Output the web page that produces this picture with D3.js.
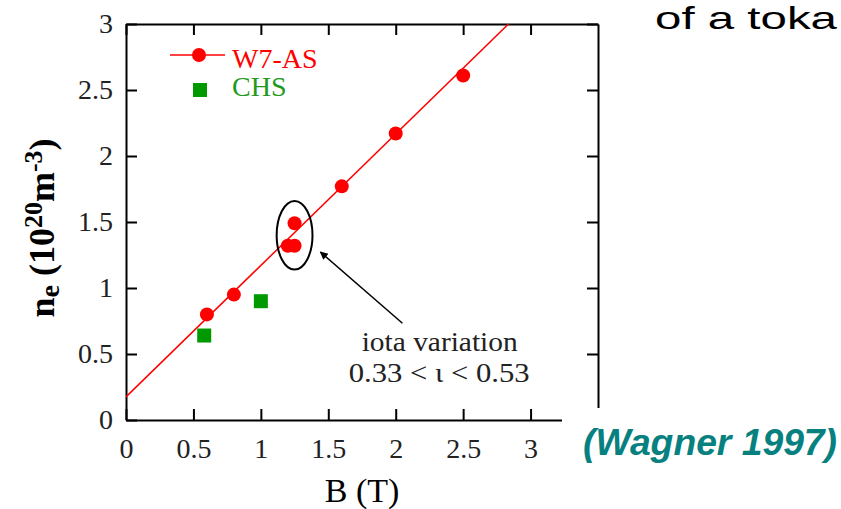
<!DOCTYPE html>
<html>
<head>
<meta charset="utf-8">
<script src="https://cdn.jsdelivr.net/npm/d3@7"></script>
<style>
  html, body { margin: 0; padding: 0; background: #fff; }
  svg { display: block; }
</style>
</head>
<body>
<svg id="chart" width="841" height="509"></svg>
<script>
// Density limit data: W7-AS and CHS stellarators
const bW7 = [0.6, 0.8, 1.2, 1.25, 1.25, 1.6, 2.0, 2.5];
const neW7 = [0.8, 0.95, 1.32, 1.32, 1.49, 1.77, 2.17, 2.61];
const bCHS = [0.58, 1.0];
const neCHS = [0.64, 0.9];
// linear fit through the W7-AS points: ne = a + b*B
const fitIntercept = 0.175;
const fitSlope = 0.996;
const xTicks = [0, 0.5, 1, 1.5, 2, 2.5, 3];
const yTicks = [0, 0.5, 1, 1.5, 2, 2.5, 3];

const svg = d3.select("#chart");
const x = d3.scaleLinear().domain([0, 3.5]).range([126, 598]);
const y = d3.scaleLinear().domain([0, 3]).range([420, 24]);

const serif = "'Liberation Serif', 'DejaVu Serif', serif";
const sans = "'Liberation Sans', Arial, sans-serif";
const red = "#ff0000";
const green = "#009900";

svg.append("defs").append("clipPath").attr("id", "plotClip")
  .append("rect").attr("x", x(0)).attr("y", y(3))
  .attr("width", x(3.5) - x(0)).attr("height", y(0) - y(3));

// axes: ticks point inward on all four sides
const fmt = d => d3.format("")(d);
function styleAxis(g) {
  g.selectAll(".domain").attr("stroke", "#000").attr("stroke-width", 2);
  g.selectAll(".tick line").attr("stroke", "#000").attr("stroke-width", 2);
  g.selectAll(".tick text").attr("font-family", serif).attr("font-size", 28).attr("fill", "#222");
}
svg.append("g").attr("transform", `translate(0,${y(0)})`)
  .call(d3.axisBottom(x).tickValues(xTicks).tickFormat(fmt).tickSizeInner(-11).tickSizeOuter(0).tickPadding(18))
  .call(styleAxis);
svg.append("g").attr("transform", `translate(${x(0)},0)`)
  .call(d3.axisLeft(y).tickValues(yTicks).tickFormat(fmt).tickSizeInner(-11).tickSizeOuter(0).tickPadding(13))
  .call(styleAxis);
svg.append("g").attr("transform", `translate(0,${y(3)})`)
  .call(d3.axisTop(x).tickValues(xTicks).tickFormat("").tickSizeInner(-11).tickSizeOuter(0))
  .call(styleAxis);
svg.append("g").attr("transform", `translate(${x(3.5)},0)`)
  .call(d3.axisRight(y).tickValues(yTicks).tickFormat("").tickSizeInner(-11).tickSizeOuter(0))
  .call(styleAxis);

// fit line
const bEnd = (3 - fitIntercept) / fitSlope;
svg.append("line")
  .attr("clip-path", "url(#plotClip)")
  .attr("x1", x(0)).attr("y1", y(fitIntercept))
  .attr("x2", x(bEnd)).attr("y2", y(fitIntercept + fitSlope * bEnd))
  .attr("stroke", red).attr("stroke-width", 1.5);

// W7-AS points
svg.append("g").selectAll("circle").data(d3.range(bW7.length)).join("circle")
  .attr("cx", i => x(bW7[i])).attr("cy", i => y(neW7[i])).attr("r", 7).attr("fill", red);

// CHS points
svg.append("g").selectAll("rect").data(d3.range(bCHS.length)).join("rect")
  .attr("x", i => x(bCHS[i]) - 7).attr("y", i => y(neCHS[i]) - 7)
  .attr("width", 14).attr("height", 14).attr("fill", green);

// ellipse round the iota scan
svg.append("ellipse")
  .attr("cx", x(1.25)).attr("cy", y(1.40))
  .attr("rx", x(0.133) - x(0)).attr("ry", y(0) - y(0.26))
  .attr("fill", "none").attr("stroke", "#000").attr("stroke-width", 2);

// arrow
svg.select("defs").append("marker").attr("id", "arrowHead")
  .attr("viewBox", "0 0 10 10").attr("refX", 9).attr("refY", 5)
  .attr("markerWidth", 13).attr("markerHeight", 8).attr("markerUnits", "userSpaceOnUse")
  .attr("orient", "auto")
  .append("path").attr("d", "M0,0 L10,5 L0,10 z").attr("fill", "#000");
svg.append("line")
  .attr("x1", x(2.05)).attr("y1", y(0.733))
  .attr("x2", x(1.442)).attr("y2", y(1.272))
  .attr("stroke", "#000").attr("stroke-width", 1.5)
  .attr("marker-end", "url(#arrowHead)");

// annotation
const noteX = x(2.326);
svg.append("text").attr("x", noteX - 78).attr("y", y(0.524))
  .attr("font-family", serif).attr("font-size", 27).attr("fill", "#222")
  .attr("textLength", 156).attr("lengthAdjust", "spacingAndGlyphs")
  .text("iota variation");
svg.append("text").attr("x", noteX - 91).attr("y", y(0.289))
  .attr("font-family", serif).attr("font-size", 27).attr("fill", "#222")
  .attr("textLength", 181).attr("lengthAdjust", "spacingAndGlyphs")
  .text("0.33 < ι < 0.53");

// legend
svg.append("line").attr("x1", 170).attr("x2", 225).attr("y1", 55).attr("y2", 55)
  .attr("stroke", red).attr("stroke-width", 1.5);
svg.append("circle").attr("cx", 199).attr("cy", 55).attr("r", 7).attr("fill", red);
svg.append("text").attr("x", 232).attr("y", 68).attr("font-family", serif)
  .attr("font-size", 28).attr("fill", red).text("W7-AS");
svg.append("rect").attr("x", 193).attr("y", 83).attr("width", 14).attr("height", 14).attr("fill", green);
svg.append("text").attr("x", 232).attr("y", 96).attr("font-family", serif)
  .attr("font-size", 28).attr("fill", "#1f9a1f").text("CHS");

// axis titles
svg.append("text").attr("x", 362).attr("y", 502).attr("text-anchor", "middle")
  .attr("font-family", serif).attr("font-size", 34).attr("fill", "#000").text("B (T)");

const yl = svg.append("text").attr("transform", "translate(54,228) rotate(-90)")
  .attr("text-anchor", "middle").attr("font-family", serif).attr("font-size", 36)
  .attr("font-weight", "bold").attr("fill", "#000");
yl.append("tspan").text("n");
yl.append("tspan").attr("font-size", 28).attr("dy", 5).text("e");
yl.append("tspan").attr("dy", -5).text(" (10");
yl.append("tspan").attr("font-size", 26).attr("dy", -12).text("20");
yl.append("tspan").attr("dy", 12).text("m");
yl.append("tspan").attr("font-size", 26).attr("dy", -12).text("-3");
yl.append("tspan").attr("dy", 12).text(")");

// citation box overlapping the frame corner
svg.append("rect").attr("x", 562).attr("y", 408).attr("width", 279).attr("height", 70).attr("fill", "#fff");
svg.append("text").attr("x", 583).attr("y", 455)
  .attr("font-family", sans).attr("font-size", 37)
  .attr("font-weight", "bold").attr("font-style", "italic").attr("fill", "#078080")
  .attr("textLength", 254).attr("lengthAdjust", "spacingAndGlyphs")
  .text("(Wagner 1997)");

// slide text at the top right
svg.append("text").attr("x", 655).attr("y", 29)
  .attr("font-family", sans).attr("font-size", 32)
  .attr("fill", "#000")
  .attr("textLength", 182).attr("lengthAdjust", "spacingAndGlyphs")
  .text("of a toka");
</script>
</body>
</html>
